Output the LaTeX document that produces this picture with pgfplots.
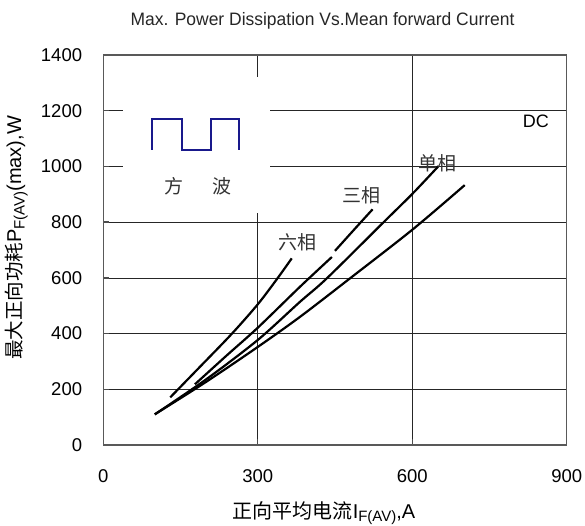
\documentclass[border=0pt]{standalone}
\usepackage{fontspec}
\setmainfont{Liberation Sans}
\newfontfamily\cjk{Noto Sans CJK SC}
\usepackage{pgfplots}
\pgfplotsset{compat=1.18}
\definecolor{wavecol}{RGB}{25,25,140}
\begin{document}
\begin{tikzpicture}
\useasboundingbox (0,0) rectangle (585pt,525pt);
\begin{axis}[
  at={(103.3pt,80pt)}, anchor=south west,
  width=463.4pt, height=390pt, scale only axis,
  xmin=0, xmax=900, ymin=0, ymax=1400,
  xtick={0,300,600,900}, ytick={0,200,...,1400},
  grid=major, major grid style={black!85, line width=0.7pt},
  axis line style={black!65, line width=1.2pt},
  tick align=inside, tick pos=left, major tick length=6pt,
  tick style={black!70, line width=1.4pt},
  /pgf/number format/assume math mode=true,
  /pgf/number format/1000 sep={},
  tick label style={font=\fontsize{18.5}{20}\selectfont},
  xticklabel style={anchor=center, inner sep=0pt, yshift=-31.5pt},
  yticklabel style={anchor=east, inner sep=0pt, xshift=-21pt},
  clip=false,
]
\fill[white] (axis cs:39,834) rectangle (axis cs:324,1320);
\addplot[wavecol, line width=2pt, sharp plot] coordinates {
  (95,1059) (95,1169) (152,1169) (152,1059) (209,1059) (209,1169) (264,1169) (264,1059)};
% six-phase
\addplot[black, line width=2.2pt, smooth] coordinates {
  (130,171) (190,285) (250,400) (300,505) (337,595) (366,670)};
% three-phase (two segments)
\addplot[black, line width=2.2pt, smooth] coordinates {
  (178,218) (240,322) (300,421) (382,568) (444,675)};
\addplot[black, line width=2.2pt, smooth] coordinates {
  (450,697) (490,779) (523,846)};
% single-phase
\addplot[black, line width=2.2pt, smooth] coordinates {
  (100,110) (200,236) (300,377) (382,514) (434,598) (544,799) (601,903) (651,1001)};
% DC
\addplot[black, line width=2.2pt, smooth] coordinates {
  (100,110) (200,227) (300,352) (382,460) (479,598) (601,774) (702,933)};
\node[font=\cjk\fontsize{19}{20}\selectfont, text=black!80] at (axis cs:378,729) {六相};
\node[font=\cjk\fontsize{19}{20}\selectfont, text=black!80] at (axis cs:502,897) {三相};
\node[font=\cjk\fontsize{19}{20}\selectfont, text=black!80] at (axis cs:649,1012) {单相};
\node[font=\cjk\fontsize{19}{20}\selectfont, text=black!80] at (axis cs:137,928) {方};
\node[font=\cjk\fontsize{19}{20}\selectfont, text=black!80] at (axis cs:230,928) {波};
\node[font=\fontsize{18}{20}\selectfont] at (axis cs:840,1161) {DC};
\end{axis}
\node[anchor=base, inner sep=0pt, font=\fontsize{18}{20}\selectfont, text=black!85] at (322.5pt,499.3pt) {\scalebox{0.97}[1]{Max. Power Dissipation Vs.Mean forward Current}};
\node[anchor=base, inner sep=0pt, font=\fontsize{20}{22}\selectfont] at (324pt,7pt) {{\cjk 正向平均电流}I\raisebox{-0.35ex}{\fontsize{15}{16}\selectfont F(AV)},A};
\node[anchor=base, inner sep=0pt, rotate=90, font=\fontsize{20}{22}\selectfont] at (21pt,287pt) {{\cjk\fontsize{19.5}{22}\selectfont 最大正向功耗}P\raisebox{-0.35ex}{\fontsize{15}{16}\selectfont F(AV)}(max),W};
\end{tikzpicture}
\end{document}
